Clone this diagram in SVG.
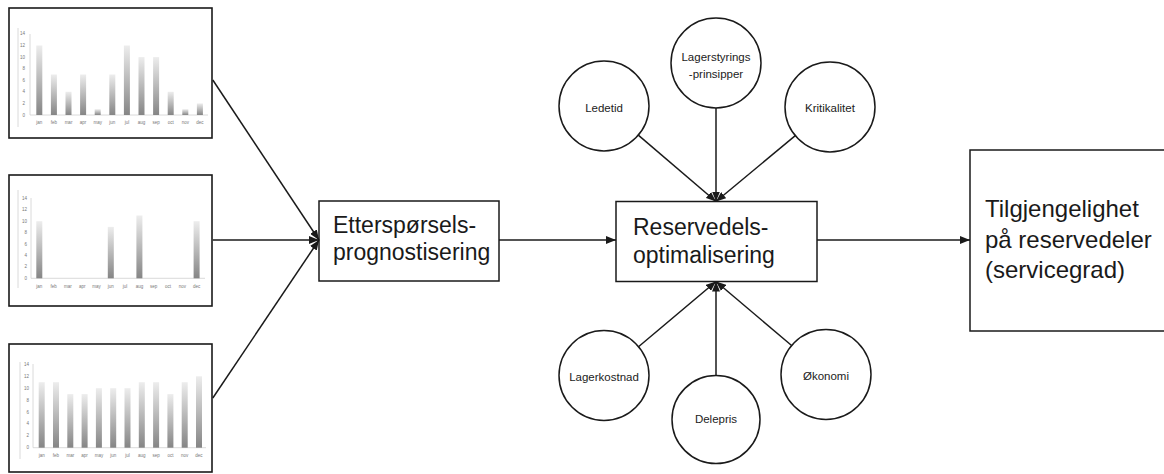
<svg xmlns="http://www.w3.org/2000/svg" width="1164" height="474" viewBox="0 0 1164 474">
  <style>
    .frame { fill: #fff; stroke: #1a1a1a; stroke-width: 1.6; }
    .node { fill: #fff; stroke: #1a1a1a; stroke-width: 1.5; }
    .big { font-family: "Liberation Sans", Arial, sans-serif; font-size: 23px; fill: #1a1a1a; }
    .big24 { font-family: "Liberation Sans", Arial, sans-serif; font-size: 24px; fill: #1a1a1a; }
    .small { font-family: "Liberation Sans", Arial, sans-serif; font-size: 11.5px; fill: #222; text-anchor: middle; }
    .tick { font-family: "Liberation Sans", Arial, sans-serif; font-size: 4.5px; fill: #777; }
    .ylab { text-anchor: end; }
    .mlab { text-anchor: middle; }
    .axis { stroke: #d0d0d0; stroke-width: 0.8; fill: none; }
    .bar { fill: url(#barFill); }
    .conn { stroke: #1a1a1a; stroke-width: 1.5; fill: none; marker-end: url(#arrow); }
  </style>
  <defs>
    <linearGradient id="barFill" x1="0" y1="0" x2="0" y2="1">
      <stop offset="0" stop-color="#ededed"/>
      <stop offset="1" stop-color="#858585"/>
    </linearGradient>
    <marker id="arrow" viewBox="0 0 10 8" refX="10" refY="4" markerWidth="10" markerHeight="8" markerUnits="userSpaceOnUse" orient="auto">
      <path d="M0,0 L10,4 L0,8 z" fill="#1a1a1a"/>
    </marker>
  </defs>

  <rect width="1164" height="474" fill="#fff"/>

  <!-- Chart 1 -->
  <g id="chart1">
    <rect class="frame" x="9" y="8" width="203" height="130"/>
    <line class="axis" x1="18" y1="28" x2="18" y2="127"/>
    <line class="axis" x1="30" y1="34" x2="30" y2="115"/>
    <line class="axis" x1="30" y1="115" x2="208" y2="115"/>
    <g class="tick ylab">
      <text x="25" y="116.5">0</text><text x="25" y="104.9">2</text><text x="25" y="93.3">4</text><text x="25" y="81.8">6</text>
      <text x="25" y="70.2">8</text><text x="25" y="58.6">10</text><text x="25" y="47">12</text><text x="25" y="35.4">14</text>
    </g>
    <g class="bar">
      <rect x="36.3" y="45.5" width="6" height="69.5"/>
      <rect x="50.9" y="74.5" width="6" height="40.5"/>
      <rect x="65.5" y="91.8" width="6" height="23.2"/>
      <rect x="80.1" y="74.5" width="6" height="40.5"/>
      <rect x="94.7" y="109.2" width="6" height="5.8"/>
      <rect x="109.3" y="74.5" width="6" height="40.5"/>
      <rect x="123.9" y="45.5" width="6" height="69.5"/>
      <rect x="138.5" y="57.1" width="6" height="57.9"/>
      <rect x="153.1" y="57.1" width="6" height="57.9"/>
      <rect x="167.7" y="91.8" width="6" height="23.2"/>
      <rect x="182.3" y="109.2" width="6" height="5.8"/>
      <rect x="196.9" y="103.4" width="6" height="11.6"/>
    </g>
    <g class="tick mlab">
      <text x="39.3" y="124">jan</text><text x="53.9" y="124">feb</text><text x="68.5" y="124">mar</text><text x="83.1" y="124">apr</text>
      <text x="97.7" y="124">may</text><text x="112.3" y="124">jun</text><text x="126.9" y="124">jul</text><text x="141.5" y="124">aug</text>
      <text x="156.1" y="124">sep</text><text x="170.7" y="124">oct</text><text x="185.3" y="124">nov</text><text x="199.9" y="124">dec</text>
    </g>
  </g>

  <!-- Chart 2 -->
  <g id="chart2">
    <rect class="frame" x="9" y="175" width="203" height="131"/>
    <line class="axis" x1="18" y1="190" x2="18" y2="288"/>
    <line class="axis" x1="31" y1="198" x2="31" y2="278.3"/>
    <line class="axis" x1="31" y1="278.3" x2="205" y2="278.3"/>
    <g class="tick ylab">
      <text x="27" y="279.8">0</text><text x="27" y="268.4">2</text><text x="27" y="257">4</text><text x="27" y="245.5">6</text>
      <text x="27" y="234.1">8</text><text x="27" y="222.7">10</text><text x="27" y="211.3">12</text><text x="27" y="199.9">14</text>
    </g>
    <g class="bar">
      <rect x="36.3" y="221.2" width="6" height="57.1"/>
      <rect x="107.8" y="226.9" width="6" height="51.4"/>
      <rect x="136.4" y="215.5" width="6" height="62.8"/>
      <rect x="193.6" y="221.2" width="6" height="57.1"/>
    </g>
    <g class="tick mlab">
      <text x="39.3" y="288">jan</text><text x="53.6" y="288">feb</text><text x="67.9" y="288">mar</text><text x="82.2" y="288">apr</text>
      <text x="96.5" y="288">may</text><text x="110.8" y="288">jun</text><text x="125.1" y="288">jul</text><text x="139.4" y="288">aug</text>
      <text x="153.7" y="288">sep</text><text x="168" y="288">oct</text><text x="182.3" y="288">nov</text><text x="196.6" y="288">dec</text>
    </g>
  </g>

  <!-- Chart 3 -->
  <g id="chart3">
    <rect class="frame" x="9" y="344" width="203" height="128"/>
    <line class="axis" x1="20" y1="362" x2="20" y2="459"/>
    <line class="axis" x1="33" y1="364" x2="33" y2="447.7"/>
    <line class="axis" x1="33" y1="447.7" x2="206" y2="447.7"/>
    <g class="tick ylab">
      <text x="29" y="449.2">0</text><text x="29" y="437.3">2</text><text x="29" y="425.4">4</text><text x="29" y="413.5">6</text>
      <text x="29" y="401.6">8</text><text x="29" y="389.7">10</text><text x="29" y="377.8">12</text><text x="29" y="365.9">14</text>
    </g>
    <g class="bar">
      <rect x="38.7" y="382.2" width="6" height="65.5"/>
      <rect x="53" y="382.2" width="6" height="65.5"/>
      <rect x="67.3" y="394.1" width="6" height="53.6"/>
      <rect x="81.6" y="394.1" width="6" height="53.6"/>
      <rect x="95.9" y="388.2" width="6" height="59.5"/>
      <rect x="110.2" y="388.2" width="6" height="59.5"/>
      <rect x="124.5" y="388.2" width="6" height="59.5"/>
      <rect x="138.8" y="382.2" width="6" height="65.5"/>
      <rect x="153.1" y="382.2" width="6" height="65.5"/>
      <rect x="167.4" y="394.1" width="6" height="53.6"/>
      <rect x="181.7" y="382.2" width="6" height="65.5"/>
      <rect x="196" y="376.3" width="6" height="71.4"/>
    </g>
    <g class="tick mlab">
      <text x="41.7" y="457">jan</text><text x="56" y="457">feb</text><text x="70.3" y="457">mar</text><text x="84.6" y="457">apr</text>
      <text x="98.9" y="457">may</text><text x="113.2" y="457">jun</text><text x="127.5" y="457">jul</text><text x="141.8" y="457">aug</text>
      <text x="156.1" y="457">sep</text><text x="170.4" y="457">oct</text><text x="184.7" y="457">nov</text><text x="199" y="457">dec</text>
    </g>
  </g>

  <!-- Process boxes -->
  <g id="etterspoersel">
    <rect class="node" x="319" y="201" width="180" height="80"/>
    <text class="big" x="333" y="233">Etterspørsels-</text>
    <text class="big" x="333" y="260">prognostisering</text>
  </g>
  <g id="reservedel">
    <rect class="node" x="616" y="201.5" width="201" height="80"/>
    <text class="big" x="633" y="235">Reservedels-</text>
    <text class="big" x="633" y="263">optimalisering</text>
  </g>
  <g id="tilgjengelighet">
    <rect class="node" x="970" y="150" width="200" height="181"/>
    <text class="big24" x="985" y="217">Tilgjengelighet</text>
    <text class="big24" x="985" y="248">på reservedeler</text>
    <text class="big24" x="985" y="278">(servicegrad)</text>
  </g>

  <!-- Factor circles -->
  <g id="ledetid">
    <circle class="node" cx="604" cy="106" r="45"/>
    <text class="small" x="604" y="112">Ledetid</text>
  </g>
  <g id="lagerstyring">
    <circle class="node" cx="716" cy="63" r="45"/>
    <text class="small" x="716" y="61">Lagerstyrings</text>
    <text class="small" x="716" y="78">-prinsipper</text>
  </g>
  <g id="kritikalitet">
    <circle class="node" cx="830" cy="107" r="45"/>
    <text class="small" x="830" y="112">Kritikalitet</text>
  </g>
  <g id="lagerkostnad">
    <circle class="node" cx="604" cy="375.5" r="45"/>
    <text class="small" x="604" y="381">Lagerkostnad</text>
  </g>
  <g id="delepris">
    <circle class="node" cx="716" cy="419.5" r="44"/>
    <text class="small" x="716" y="423">Delepris</text>
  </g>
  <g id="oekonomi">
    <circle class="node" cx="826" cy="374.5" r="45"/>
    <text class="small" x="826" y="380">Økonomi</text>
  </g>

  <!-- Connectors -->
  <g id="connectors">
    <line class="conn" x1="212.8" y1="80" x2="319" y2="240"/>
    <line class="conn" x1="212.8" y1="240" x2="319" y2="240"/>
    <line class="conn" x1="212.8" y1="398" x2="319" y2="240"/>
    <line class="conn" x1="499" y1="240" x2="616" y2="240"/>
    <line class="conn" x1="817" y1="240" x2="970" y2="240"/>
    <line class="conn" x1="638.3" y1="135.1" x2="716" y2="201.5"/>
    <line class="conn" x1="716" y1="108" x2="716" y2="201.5"/>
    <line class="conn" x1="795.3" y1="135.6" x2="716" y2="201.5"/>
    <line class="conn" x1="638.5" y1="346.7" x2="716" y2="281.5"/>
    <line class="conn" x1="716" y1="375.5" x2="716" y2="281.5"/>
    <line class="conn" x1="791.6" y1="345.5" x2="716" y2="281.5"/>
  </g>
</svg>
